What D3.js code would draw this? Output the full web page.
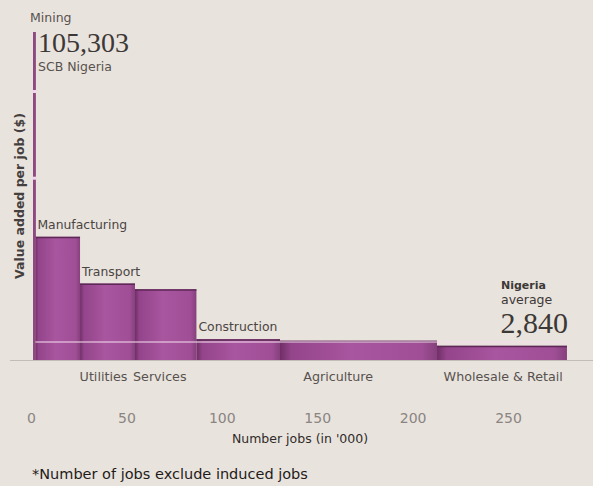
<!DOCTYPE html>
<html>
<head>
<meta charset="utf-8">
<script src="https://cdn.jsdelivr.net/npm/d3@7"></script>
<style>
  html, body { margin: 0; padding: 0; background: #e9e3dd; }
  svg { display: block; }
</style>
</head>
<body>
<svg id="chart" width="593" height="486"></svg>
<script>
// Sectors in drawing order: jobs in thousands, value added per job in $
const sectors = ["Mining", "Manufacturing", "Transport", "Services", "Construction", "Agriculture", "Wholesale & Retail"];
const jobs = [2.3, 23.4, 28.8, 32.2, 43.8, 82.3, 68.1];
const valuePerJob = [105303, 19500, 12100, 11200, 3300, 3050, 2250];

// Labels above the bars (index of the bar they sit on)
const topLabels = ["Manufacturing", "Transport", "Construction"];
const topLabelBars = [1, 2, 4];
// Labels under the axis, with the job position (in '000) they are centred on
const bottomLabels = ["Utilities", "Services", "Agriculture", "Wholesale & Retail"];
const bottomLabelAt = [38, 67.5, 161, 247.5];

const nigeriaAverage = 2840;
const xTicks = [0, 50, 100, 150, 200, 250];

const svg = d3.select("#chart");
const W = 593, H = 486;
const baseY = 360;

// Horizontal: cumulative jobs
const x = d3.scaleLinear().domain([0, 250]).range([31, 508]);
// Vertical: broken scale, compressed above 25,000 so mining fits
const y = d3.scaleLinear().domain([0, 25000, 105303]).range([baseY, 202, 32]);

const starts = [];
let acc = 0;
jobs.forEach(j => { starts.push(acc); acc += j; });
const bars = sectors.map((s, i) => ({ name: s, x0: starts[i], x1: starts[i] + jobs[i], v: valuePerJob[i] }));

const defs = svg.append("defs");
const grad = defs.append("linearGradient").attr("id", "barFill")
  .attr("x1", "0").attr("x2", "1").attr("y1", "0").attr("y2", "0");
grad.append("stop").attr("offset", "0%").attr("stop-color", "#6f2f66");
grad.append("stop").attr("offset", "7%").attr("stop-color", "#93448a");
grad.append("stop").attr("offset", "45%").attr("stop-color", "#a8569f");
grad.append("stop").attr("offset", "90%").attr("stop-color", "#a04f97");
grad.append("stop").attr("offset", "100%").attr("stop-color", "#86407c");

// Baseline
svg.append("line")
  .attr("x1", 10).attr("x2", W)
  .attr("y1", baseY + 0.5).attr("y2", baseY + 0.5)
  .attr("stroke", "#c4bdb7").attr("stroke-width", 1.2);

// Main bars (all but mining)
const main = bars.slice(1);
svg.append("g").selectAll("rect").data(main).join("rect")
  .attr("x", d => x(d.x0))
  .attr("y", d => y(d.v))
  .attr("width", d => x(d.x1) - x(d.x0))
  .attr("height", d => baseY - y(d.v))
  .attr("fill", "url(#barFill)");

// Darker top edges
svg.append("g").selectAll("line").data(main).join("line")
  .attr("x1", d => x(d.x0)).attr("x2", d => x(d.x1))
  .attr("y1", d => y(d.v) + 0.75).attr("y2", d => y(d.v) + 0.75)
  .attr("stroke", "#5e2856").attr("stroke-width", 1.5);

// Mining bar with axis-break gaps
const mining = bars[0];
svg.append("rect")
  .attr("x", x(mining.x0) + 2)
  .attr("y", y(mining.v))
  .attr("width", x(mining.x1) - x(mining.x0) - 1.5)
  .attr("height", baseY - y(mining.v))
  .attr("fill", "#8c4a80");
const breakFractions = [0.14, 0.65];
breakFractions.forEach(f => {
  const by = d3.interpolateNumber(y(25000), y(mining.v))(f);
  svg.append("rect")
    .attr("x", x(mining.x0) + 1).attr("y", by - 1.5)
    .attr("width", x(mining.x1) - x(mining.x0) + 1).attr("height", 3)
    .attr("fill", "#efd9e8");
});

// Nigeria average line across the bars
svg.append("line")
  .attr("x1", x(bars[1].x0)).attr("x2", x(acc))
  .attr("y1", y(nigeriaAverage)).attr("y2", y(nigeriaAverage))
  .attr("stroke", "#f3dcec").attr("stroke-opacity", 0.7).attr("stroke-width", 1.5);

const sans = "'DejaVu Sans', 'Noto Sans', sans-serif";
const serif = "'Liberation Serif', 'DejaVu Serif', serif";
const ink = "#4a4543";

// Labels above bars
svg.append("g").selectAll("text").data(topLabels).join("text")
  .attr("x", (d, i) => x(bars[topLabelBars[i]].x0) + 2)
  .attr("y", (d, i) => y(bars[topLabelBars[i]].v) - 8)
  .attr("font-family", sans).attr("font-size", 12.4).attr("fill", ink)
  .text(d => d);

// Labels under the axis
svg.append("g").selectAll("text").data(bottomLabels).join("text")
  .attr("x", (d, i) => x(bottomLabelAt[i]))
  .attr("y", baseY + 21)
  .attr("text-anchor", "middle")
  .attr("font-family", sans).attr("font-size", 12.7).attr("fill", "#57524f")
  .text(d => d);

// Mining annotation
svg.append("text").attr("x", 30).attr("y", 22)
  .attr("font-family", sans).attr("font-size", 12.5).attr("fill", "#57524f").text("Mining");
svg.append("text").attr("x", 38).attr("y", 52)
  .attr("font-family", serif).attr("font-size", 28).attr("fill", "#3c3836")
  .text(d3.format(",")(mining.v));
svg.append("text").attr("x", 38).attr("y", 71)
  .attr("font-family", sans).attr("font-size", 12.5).attr("fill", "#57524f").text("SCB Nigeria");

// Nigeria average annotation
svg.append("text").attr("x", 501).attr("y", 289)
  .attr("font-family", sans).attr("font-size", 11).attr("font-weight", 700).attr("fill", "#3c3836").text("Nigeria");
svg.append("text").attr("x", 501).attr("y", 304)
  .attr("font-family", sans).attr("font-size", 12.5).attr("fill", "#3c3836").text("average");
svg.append("text").attr("x", x(acc) + 1).attr("y", 333)
  .attr("text-anchor", "end")
  .attr("font-family", serif).attr("font-size", 30).attr("fill", "#3c3836")
  .text(d3.format(",")(nigeriaAverage));

// X axis tick labels
const xAxis = d3.axisBottom(x).tickValues(xTicks).tickSize(0).tickPadding(0);
const gx = svg.append("g").attr("transform", `translate(0, 423)`).call(xAxis);
gx.select(".domain").remove();
gx.selectAll("text")
  .attr("dy", 0)
  .attr("font-family", sans).attr("font-size", 14).attr("fill", "#8a8583");

svg.append("text").attr("x", 300).attr("y", 443)
  .attr("text-anchor", "middle")
  .attr("font-family", sans).attr("font-size", 12.5).attr("fill", "#2f2b29")
  .text("Number jobs (in '000)");

// Y axis title
svg.append("text")
  .attr("transform", "translate(24, 196) rotate(-90)")
  .attr("text-anchor", "middle")
  .attr("font-family", sans).attr("font-size", 12.5).attr("font-weight", 700).attr("fill", "#45403e")
  .text("Value added per job ($)");

// Footnote
svg.append("text").attr("x", 32).attr("y", 479)
  .attr("font-family", sans).attr("font-size", 14.5).attr("fill", "#1f1b1a")
  .text("*Number of jobs exclude induced jobs");
</script>
</body>
</html>
